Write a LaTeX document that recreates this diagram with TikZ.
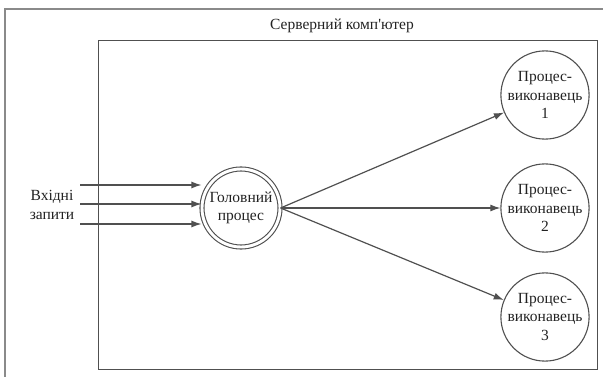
\documentclass[tikz,border=0pt]{standalone}
\usepackage{fontspec}
\setmainfont{Liberation Serif}[Ligatures=TeXOff]
\usetikzlibrary{arrows.meta}
\definecolor{linec}{HTML}{505050}
\definecolor{framec}{HTML}{8A8A8A}
\definecolor{txtc}{HTML}{222222}
\begin{document}
\begin{tikzpicture}[x=1pt,y=-1pt,
  every node/.style={text=txtc, font=\fontsize{15.5}{18.5}\selectfont},
  conn/.style={draw=linec, line width=1.2pt, -{Latex[length=10pt,width=7pt]}},
  worker/.style={circle, draw=linec, line width=1.1pt, minimum size=86pt, inner sep=0pt, align=center},
  mainproc/.style={circle, draw=linec, line width=1.1pt, double, double distance=2.9pt, minimum size=78pt, inner sep=0pt, align=center},
  serverbox/.style={draw=linec, line width=1.1pt, minimum width=499pt, minimum height=329pt, anchor=north west, inner sep=0pt}]
\useasboundingbox (0,0) rectangle (603,377);
\begin{scope}
  \clip (0,0) rectangle (603,377);
  \draw[framec, line width=1.2pt] (5,9) rectangle (640,420);
\end{scope}
\node[serverbox] (server) at (98,40) {};
\node (title) at (342,26) {Серверний комп'ютер};
\node[mainproc] (main) at (241,208) {Головний\\процес};
\node[worker] (w1) at (545,95) {Процес-\\виконавець\\1};
\node[worker] (w2) at (545,208) {Процес-\\виконавець\\2};
\node[worker] (w3) at (545,317) {Процес-\\виконавець\\3};
\node[align=center] (inp) at (52,205) {Вхідні\\запити};
\coordinate (i1) at (80,185);
\coordinate (i2) at (80,204);
\coordinate (i3) at (80,224);
\draw[conn] (i1) -- (i1 -| main.west);
\draw[conn] (i2) -- (i2 -| main.west);
\draw[conn] (i3) -- (i3 -| main.west);
\draw[conn] (main.east) -- (w1);
\draw[conn] (main.east) -- (w2);
\draw[conn] (main.east) -- (w3);
\end{tikzpicture}
\end{document}
